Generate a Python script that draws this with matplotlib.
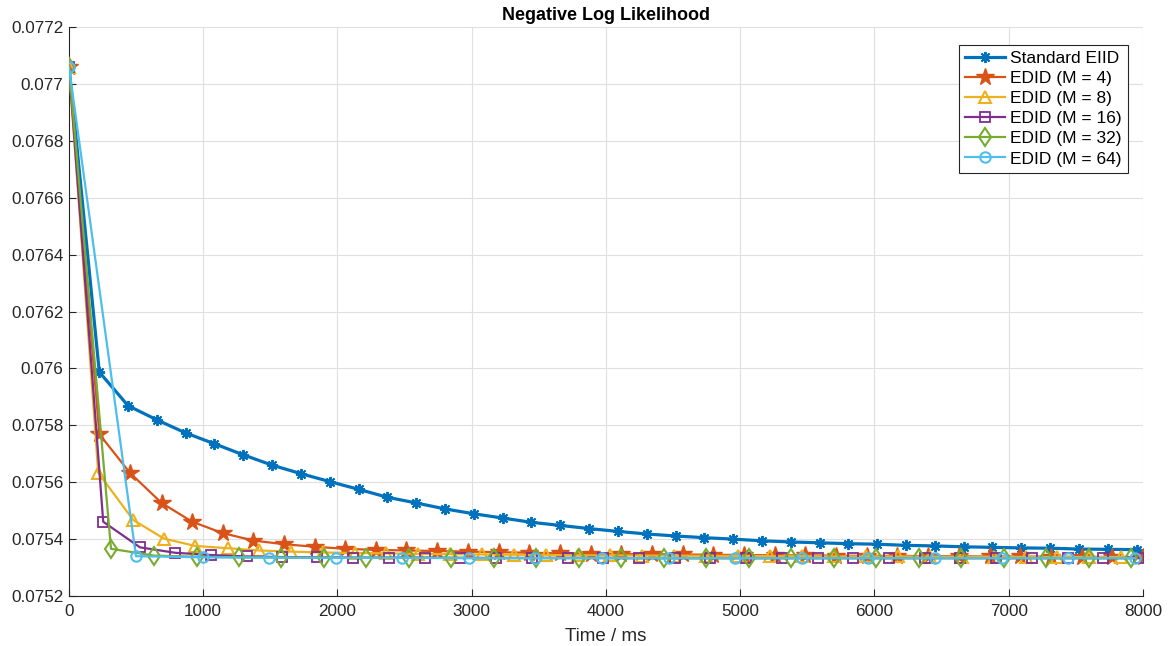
import matplotlib
matplotlib.use("Agg")
import matplotlib.pyplot as plt
from matplotlib.ticker import FixedLocator

plt.rcParams['font.family'] = ['Liberation Sans', 'DejaVu Sans']

# --- data -----------------------------------------------------------------
t_std = [0, 226, 440, 655, 870, 1084, 1299, 1513, 1728, 1943, 2157, 2372, 2587,
         2801, 3016, 3230, 3445, 3660, 3874, 4089, 4303, 4518, 4733, 4947, 5162,
         5377, 5591, 5806, 6020, 6235, 6450, 6664, 6879, 7094, 7308, 7523, 7737, 7952]
nll_std = [0.07706, 0.075987, 0.075869, 0.075819, 0.075773, 0.075735, 0.075696,
           0.075660, 0.075630, 0.075602, 0.075575, 0.075547, 0.075527, 0.075506,
           0.075489, 0.075474, 0.075459, 0.075448, 0.075437, 0.075427, 0.075418,
           0.075411, 0.075405, 0.075400, 0.075394, 0.075390, 0.075387, 0.075384,
           0.075382, 0.075378, 0.075376, 0.075373, 0.075371, 0.075369, 0.075368,
           0.075365, 0.075364, 0.075363]

t_m4 = [0, 226, 454, 690, 918, 1145, 1373, 1602, 1832, 2056, 2285, 2514, 2743,
        2971, 3200, 3428, 3657, 3886, 4114, 4343, 4571, 4800, 5028, 5257, 5486,
        5714, 5943, 6171, 6400, 6629, 6857, 7086, 7314, 7543, 7771, 8000]
nll_m4 = [0.07706, 0.075769, 0.075633, 0.075527, 0.075461, 0.075421, 0.075395,
          0.075382, 0.075373, 0.075366, 0.075362, 0.075360, 0.075358, 0.075356,
          0.075354, 0.075352, 0.075350, 0.075349, 0.075348, 0.075347, 0.075346,
          0.075345, 0.075344, 0.075343, 0.075343, 0.075342, 0.075341, 0.075341,
          0.075340, 0.075340, 0.075339, 0.075339, 0.075338, 0.075338, 0.075337,
          0.075337]

t_m8 = [0, 218, 479, 707, 939, 1182, 1418, 1651, 1889, 2127, 2365, 2603, 2841,
        3079, 3317, 3555, 3793, 4031, 4269, 4507, 4745, 4983, 5221, 5459, 5697,
        5935, 6173, 6411, 6649, 6887, 7125, 7363, 7601, 7839]
nll_m8 = [0.07706, 0.075633, 0.075467, 0.075402, 0.075376, 0.075368, 0.075360,
          0.075356, 0.075353, 0.075351, 0.075350, 0.075348, 0.075347, 0.075346,
          0.075345, 0.075344, 0.075343, 0.075343, 0.075342, 0.075342, 0.075341,
          0.075341, 0.075340, 0.075340, 0.075339, 0.075339, 0.075339, 0.075338,
          0.075338, 0.075338, 0.075337, 0.075337, 0.075337, 0.075337]

t_m16 = [0, 255, 529, 790, 1058, 1324, 1584, 1845, 2118, 2384, 2650, 2916, 3182,
         3448, 3714, 3980, 4246, 4512, 4778, 5044, 5310, 5576, 5842, 6108, 6374,
         6640, 6906, 7172, 7438, 7704, 7970]
nll_m16 = [0.07706, 0.075461, 0.075371, 0.075352, 0.075344, 0.075339, 0.075337,
           0.075336, 0.075335, 0.075335, 0.075335, 0.075334, 0.075334, 0.075334,
           0.075334, 0.075334, 0.075333, 0.075333, 0.075333, 0.075333, 0.075333,
           0.075333, 0.075333, 0.075333, 0.075333, 0.075333, 0.075333, 0.075333,
           0.075333, 0.075333, 0.075333]

t_m32 = [0, 313, 633, 950, 1266, 1583, 1899, 2216, 2532, 2849, 3165, 3482, 3799,
         4115, 4432, 4748, 5065, 5381, 5698, 6014, 6331, 6648, 6964, 7281, 7597,
         7914]
nll_m32 = [0.07706, 0.075366, 0.075342, 0.075338, 0.075336, 0.075335, 0.075335,
           0.075334, 0.075334, 0.075334, 0.075333, 0.075333, 0.075333, 0.075333,
           0.075333, 0.075333, 0.075333, 0.075333, 0.075333, 0.075333, 0.075333,
           0.075333, 0.075333, 0.075333, 0.075333, 0.075333]

t_m64 = [0, 499, 995, 1491, 1987, 2483, 2979, 3475, 3971, 4467, 4963, 5459, 5955,
         6451, 6947, 7443, 7939]
nll_m64 = [0.07706, 0.075340, 0.075336, 0.075335, 0.075334, 0.075334, 0.075333,
           0.075333, 0.075333, 0.075333, 0.075333, 0.075333, 0.075333, 0.075333,
           0.075333, 0.075333, 0.075333]

labels = ["Standard EIID", "EDID (M = 4)", "EDID (M = 8)", "EDID (M = 16)",
          "EDID (M = 32)", "EDID (M = 64)"]
y_ticks = [0.0752, 0.0754, 0.0756, 0.0758, 0.076, 0.0762, 0.0764, 0.0766,
           0.0768, 0.077, 0.0772]
y_tick_labels = ["0.0752", "0.0754", "0.0756", "0.0758", "0.076", "0.0762",
                 "0.0764", "0.0766", "0.0768", "0.077", "0.0772"]
x_ticks = [0, 1000, 2000, 3000, 4000, 5000, 6000, 7000, 8000]

# --- figure ---------------------------------------------------------------
fig = plt.figure(figsize=(11.73, 6.46), dpi=100)
ax = fig.add_axes([0.0588, 0.0774, 0.9156, 0.8808])

c_blue = "#0072BD"
c_orange = "#D95319"
c_yellow = "#EDB120"
c_purple = "#7E2F8E"
c_green = "#77AC30"
c_cyan = "#4DBEEE"

ax.plot(t_std, nll_std, color=c_blue, lw=2.3, marker=(8, 2, 0), ms=8, mew=1.4,
        label=labels[0], zorder=3)
ax.plot(t_m4, nll_m4, color=c_orange, lw=1.6, marker="*", ms=13,
        mfc=c_orange, mec=c_orange, mew=1.0, label=labels[1], zorder=3)
ax.plot(t_m8, nll_m8, color=c_yellow, lw=1.6, marker="^", ms=8.5, mfc="none",
        mec=c_yellow, mew=1.5, label=labels[2], zorder=3)
ax.plot(t_m16, nll_m16, color=c_purple, lw=1.6, marker="s", ms=6.5, mfc="none",
        mec=c_purple, mew=1.3, label=labels[3], zorder=3)
ax.plot(t_m32, nll_m32, color=c_green, lw=1.6, marker="d", ms=9.5, mfc="none",
        mec=c_green, mew=1.5, label=labels[4], zorder=3)
ax.plot(t_m64, nll_m64, color=c_cyan, lw=1.6, marker="o", ms=7.5, mfc="none",
        mec=c_cyan, mew=1.5, label=labels[5], zorder=3)

ax.set_xlim(0, 8000)
ax.set_ylim(0.0752, 0.0772)
ax.xaxis.set_major_locator(FixedLocator(x_ticks))
ax.set_xticklabels([str(v) for v in x_ticks])
ax.yaxis.set_major_locator(FixedLocator(y_ticks))
ax.set_yticklabels(y_tick_labels)

ax.grid(True, color="#DFDFDF", lw=0.8, zorder=0)
ax.set_axisbelow(True)
for side in ("top", "right"):
    ax.spines[side].set_visible(False)
for side in ("left", "bottom"):
    ax.spines[side].set_color("#262626")
    ax.spines[side].set_linewidth(0.8)
ax.tick_params(direction="in", length=5, width=0.8, colors="#262626",
               labelsize=12.3, labelcolor="#262626", pad=4)
ax.tick_params(axis="x", pad=6)

ax.set_title("Negative Log Likelihood", fontsize=13, fontweight="bold",
             color="black", pad=5)
ax.set_xlabel("Time / ms", fontsize=13.5, color="#262626", labelpad=6)

leg = ax.legend(loc="upper right", bbox_to_anchor=(0.986, 0.968), fontsize=12.5,
                frameon=True, fancybox=False, edgecolor="#262626",
                handlelength=2.3, handletextpad=0.3, borderpad=0.35,
                labelspacing=0.28, borderaxespad=0)
leg.get_frame().set_linewidth(0.8)
leg.get_frame().set_alpha(1)

fig.savefig("out.png", dpi=100, facecolor="white")
